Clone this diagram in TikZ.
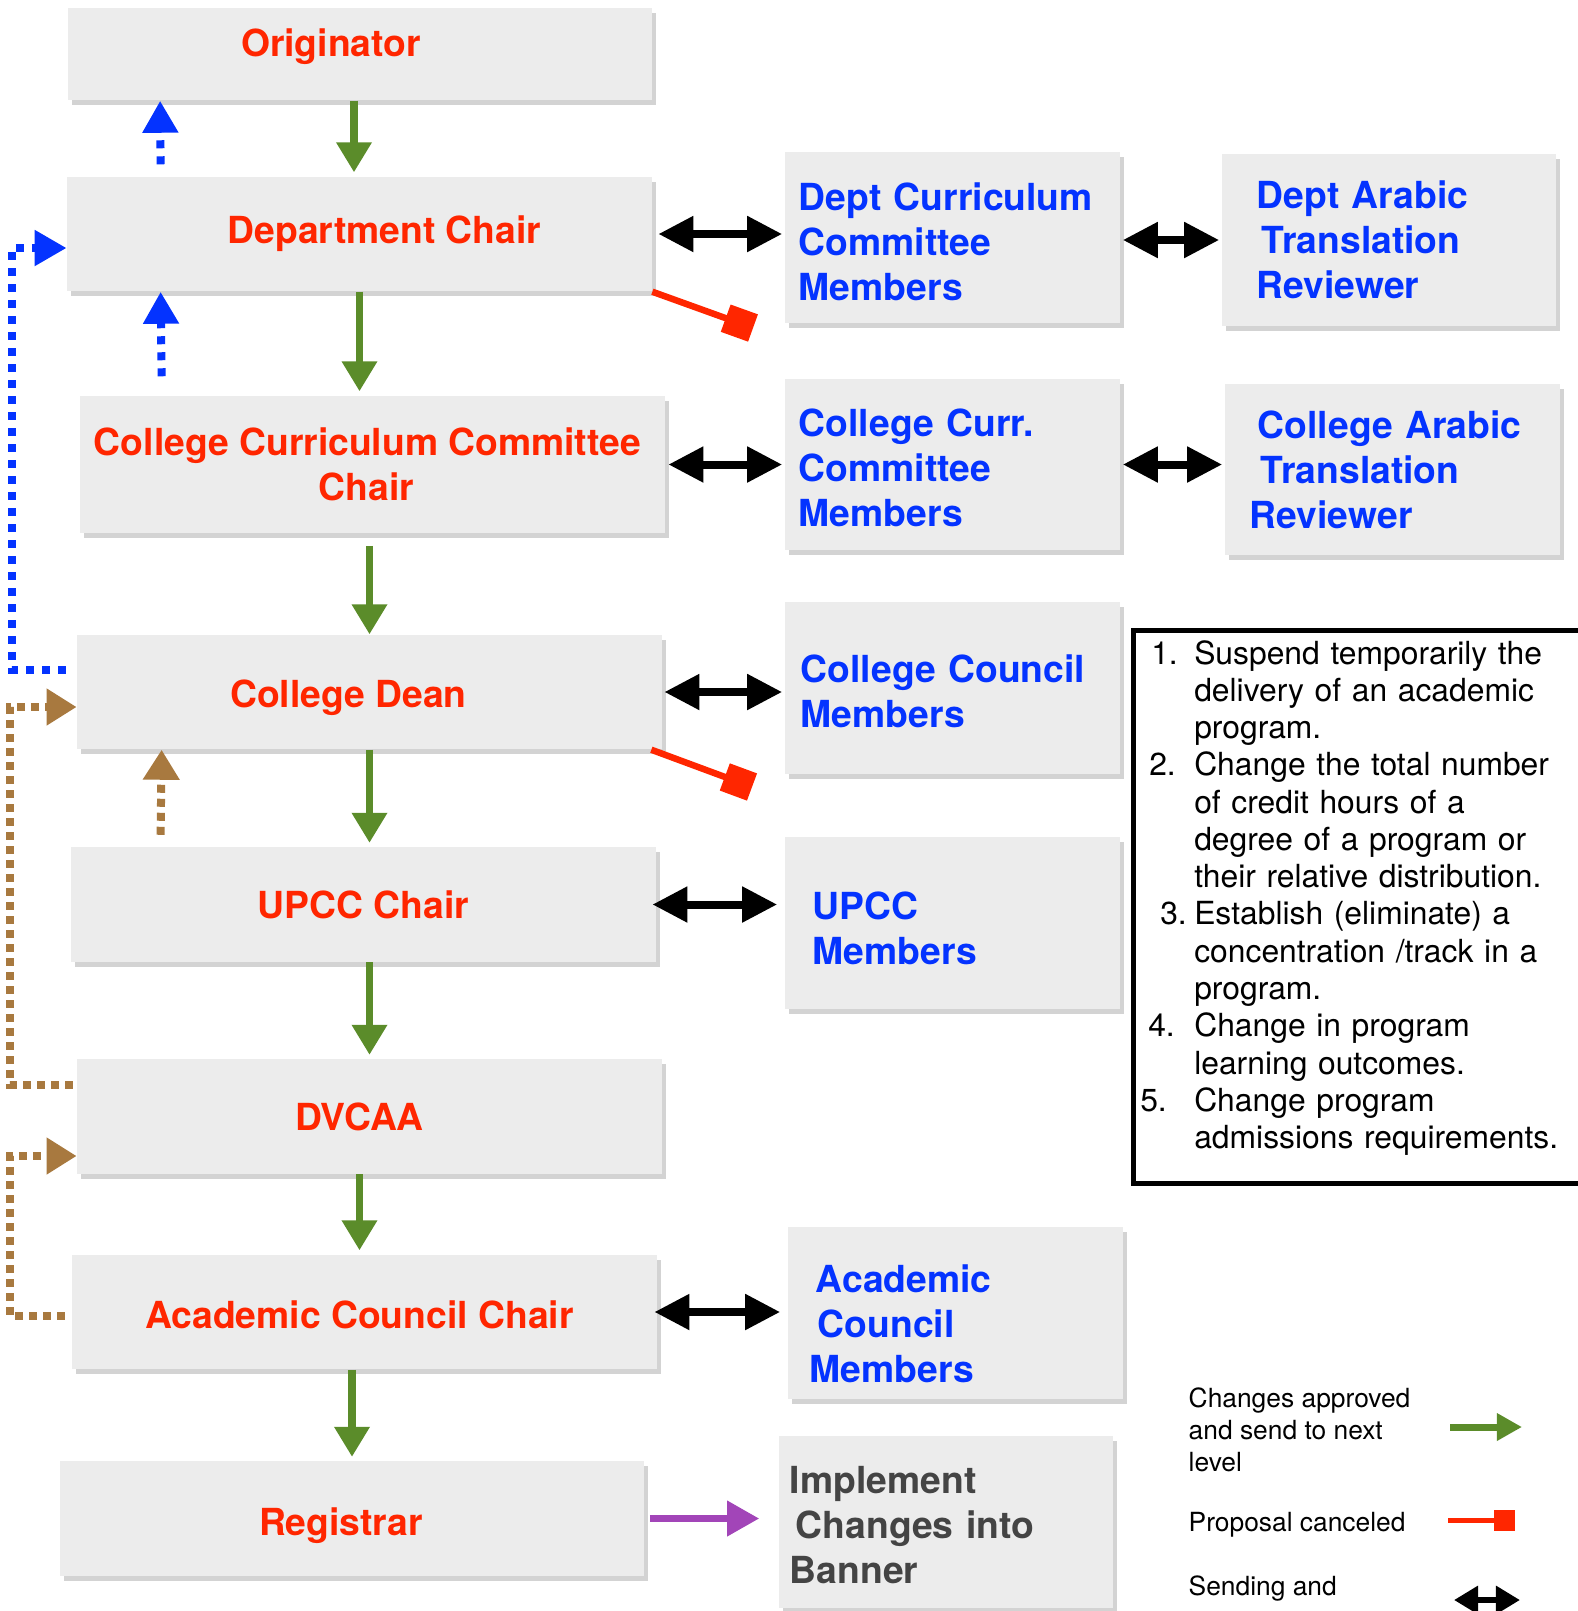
\documentclass[tikz,border=0pt]{standalone}
\usepackage{fontspec}
\setmainfont{TeX Gyre Heros}
\usetikzlibrary{arrows.meta,positioning,calc,shadows}
\definecolor{stageRed}{HTML}{FF2600}
\definecolor{memberBlue}{HTML}{0433FF}
\definecolor{approveGreen}{HTML}{5B8C2A}
\definecolor{returnBrown}{HTML}{A8793F}
\definecolor{bannerPurple}{HTML}{A245B8}
\definecolor{boxGray}{HTML}{ECECEC}
\definecolor{bannerText}{HTML}{444444}
\newcommand{\critem}[3]{\noindent\hangindent=0.54cm\hangafter=1\makebox[0.54cm][l]{\hspace*{#1}#2}#3\par}
\newcommand{\nudge}[2]{\raisebox{#1}[\height][\depth]{#2}}
\tikzset{
	box/.style={fill=boxGray, drop shadow={shadow xshift=0.04cm, shadow yshift=-0.05cm, opacity=0.35}},
	stage/.style={box, minimum width=5.84cm, minimum height=1.14cm, align=center, text=stageRed,
		font=\fontsize{10.6}{12.8}\selectfont\bfseries},
	member/.style={box, minimum height=1.71cm, text width=3.07cm, inner xsep=0.14cm, align=left, text=memberBlue,
		font=\fontsize{10.6}{12.8}\selectfont\bfseries},
	approve/.style={draw=approveGreen, line width=0.07cm, shorten >=0.04cm, -{Triangle[length=0.3cm,width=0.34cm]}},
	consult/.style={draw=black, line width=0.08cm, shorten <=0.02cm, shorten >=0.02cm,
		{Triangle[length=0.35cm,width=0.34cm]}-{Triangle[length=0.35cm,width=0.34cm]}},
	cancel/.style={draw=stageRed, line width=0.065cm, -{Square[length=0.29cm,width=0.29cm]}},
	backblue/.style={draw=memberBlue, line width=0.08cm, dash pattern=on 0.08cm off 0.08cm, -{Triangle[length=0.32cm,width=0.34cm]}},
	backbrown/.style={draw=returnBrown, line width=0.08cm, dash pattern=on 0.08cm off 0.06cm, -{Triangle[length=0.3cm,width=0.35cm]}},
	implement/.style={draw=bannerPurple, line width=0.07cm, shorten <=0.05cm, shorten >=0.19cm, -{Triangle[length=0.32cm,width=0.34cm]}},
	legendtext/.style={anchor=west, inner sep=0pt, align=left, font=\fontsize{7.5}{9.1}\selectfont}
}
\begin{document}
\begin{tikzpicture}[x=0.01cm, y=-0.01cm]
	\useasboundingbox (0,0) rectangle (1578,1611);
	\clip (0,0) rectangle (1578,1611);
	% approval chain
	\node[stage, minimum height=0.92cm] at (360,54) (orig) {\nudge{0.07cm}{\hspace*{-0.58cm}Originator}};
	\node[stage] at (359.5,234) (dchair) {\hspace*{0.5cm}Department Chair};
	\node[stage, minimum height=1.37cm] at (372.5,464.5) (cccchair) {\hspace*{-0.1cm}College Curriculum Committee\\\hspace*{-0.12cm}Chair};
	\node[stage] at (369.5,692) (dean) {\nudge{-0.06cm}{\hspace*{-0.42cm}College Dean}};
	\node[stage] at (363.5,904.5) (upcc) {UPCC Chair};
	\node[stage] at (369.5,1116.5) (dvcaa) {\hspace*{-0.2cm}DVCAA};
	\node[stage] at (364.5,1312) (acc) {\nudge{-0.03cm}{\hspace*{-0.1cm}Academic Council Chair}};
	\node[stage] at (352,1518.5) (reg) {\nudge{-0.07cm}{\hspace*{-0.22cm}Registrar}};
	% members and reviewers
	\node[member] at (952.5,237.5) (dccm) {Dept Curriculum\\Committee\\Members\par\vspace*{-0.08cm}};
	\node[member, text width=2.64cm, inner xsep=0.35cm] at (1389,240) (datr) {Dept Arabic\\\hspace*{0.05cm}Translation\\Reviewer};
	\node[member] at (952.5,464.5) (cccm) {College Curr.\\Committee\\Members\par\vspace*{-0.06cm}};
	\node[member, text width=2.69cm, inner xsep=0.33cm] at (1392.5,469.5) (catr) {College Arabic\\\hspace*{0.03cm}Translation\\\hspace*{-0.08cm}Reviewer};
	\node[member, text width=3.03cm, inner xsep=0.16cm] at (952.5,688) (ccm) {College Council\\Members\par\vspace*{-0.06cm}};
	\node[member, text width=2.79cm, inner xsep=0.28cm] at (952.5,923) (upccm) {UPCC\\Members\par\vspace*{-0.1cm}};
	\node[member, text width=2.79cm, inner xsep=0.28cm] at (955.5,1313) (acm) {Academic\\\hspace*{0.02cm}Council\\\hspace*{-0.06cm}Members\par\vspace*{-0.22cm}};
	\node[member, text width=3.12cm, inner xsep=0.11cm, text=bannerText] at (946,1522) (banner) {Implement\\\hspace*{0.06cm}Changes into\\Banner\par\vspace*{-0.06cm}};
	% criteria
	\node[draw, line width=0.045cm, anchor=north west, text width=4.48cm, inner xsep=0.07cm, inner ysep=0.1cm,
		text depth=5.09cm, align=left, font=\fontsize{9.05}{10.6}\selectfont] at (1131,628) (criteria) {%
		\critem{0.11cm}{1.}{Suspend temporarily the\newline delivery of an academic\newline program.}%
		\critem{0.09cm}{2.}{Change the total number\newline of credit hours of a\newline degree of a program or\newline their relative distribution.}%
		\critem{0.2cm}{3.}{Establish (eliminate) a\newline concentration /track in a\newline program.}%
		\critem{0.08cm}{4.}{Change in program\newline learning outcomes.}%
		\critem{0cm}{5.}{Change program\newline admissions requirements.}};
	% green: approved
	\draw[approve] ([xshift=-0.06cm]orig.south) -- ([xshift=-0.06cm]orig.south |- dchair.north);
	\draw[approve] (dchair.south) -- (dchair.south |- cccchair.north);
	\draw[approve, shorten <=0.12cm, shorten >=0pt] (cccchair.south -| dean.north) -- (dean.north);
	\draw[approve] (dean.south) -- (dean.south |- upcc.north);
	\draw[approve] (upcc.south -| dvcaa.north) -- (dvcaa.north);
	\draw[approve] ([xshift=-0.1cm]dvcaa.south) -- ([xshift=-0.1cm]dvcaa.south |- acc.north);
	\draw[approve] (acc.south -| reg.north) -- (reg.north);
	% black: sending and receiving
	\draw[consult, shorten <=0.06cm] (dchair.east) -- (dchair.east -| dccm.west);
	\draw[consult] (datr.west -| dccm.east) -- (datr.west);
	\draw[consult, shorten <=0.03cm] (cccchair.east) -- (cccchair.east -| cccm.west);
	\draw[consult] (cccm.east) -- (cccm.east -| catr.west);
	\draw[consult] (dean.east) -- (dean.east -| ccm.west);
	\draw[consult, shorten <=-0.04cm, shorten >=0.07cm] (upcc.east) -- (upcc.east -| upccm.west);
	\draw[consult, shorten <=-0.03cm, shorten >=0.07cm] (acc.east) -- (acc.east -| acm.west);
	\draw[implement] (reg.east) -- (reg.east -| banner.west);
	% red: canceled
	\coordinate (dchaircut) at (753,328);
	\coordinate (deancut) at (752,787);
	\draw[cancel] (dchair.south east) -- (dchaircut);
	\draw[cancel] ([xshift=-0.11cm]dean.south east) -- (deancut);
	% dotted: sent back
	\draw[backblue] ($(dchair.north west)+(94,-12)$) -- ($(orig.south west)+(93,0)$);
	\draw[backblue] ($(cccchair.north west)+(82,-19)$) -- ($(dchair.south west)+(94,0)$);
	\draw[backblue] ($(dean.west)+(-11,-22)$) -| ($(dchair.west)+(-55,14)$) -- ($(dchair.west)+(0,14)$);
	\draw[backbrown] ($(upcc.north west)+(90,-12)$) -- ($(dean.south west)+(85,0)$);
	\draw[backbrown] ($(dvcaa.west)+(-4,-31.5)$) -| ($(dean.west)+(-67,15)$) -- ($(dean.west)+(0,15)$);
	\draw[backbrown] ($(acc.west)+(-7,4)$) -| ($(dvcaa.west)+(-67,39.5)$) -- ($(dvcaa.west)+(0,39.5)$);
	% legend
	\node[legendtext] at (1188,1430) (lgapprove) {Changes approved\\and send to next\\level};
	\node[legendtext] at (1188,1525) (lgcancel) {Proposal canceled};
	\node[legendtext] at (1188,1589) (lgconsult) {Sending and};
	\coordinate (lgapprovea) at (1450,1427);
	\coordinate (lgapproveb) at (1522,1427);
	\coordinate (lgcancela) at (1448,1520);
	\coordinate (lgcancelb) at (1515,1520);
	\coordinate (lgconsulta) at (1454,1600);
	\coordinate (lgconsultb) at (1520,1600);
	\draw[approve, shorten >=0pt, -{Triangle[length=0.25cm,width=0.26cm]}] (lgapprovea) -- (lgapproveb);
	\draw[cancel, line width=0.05cm, -{Square[length=0.21cm,width=0.21cm]}] (lgcancela) -- (lgcancelb);
	\draw[consult, line width=0.06cm, shorten <=0pt, shorten >=0pt,
		{Triangle[length=0.24cm,width=0.27cm]}-{Triangle[length=0.24cm,width=0.27cm]}] (lgconsulta) -- (lgconsultb);
\end{tikzpicture}
\end{document}
